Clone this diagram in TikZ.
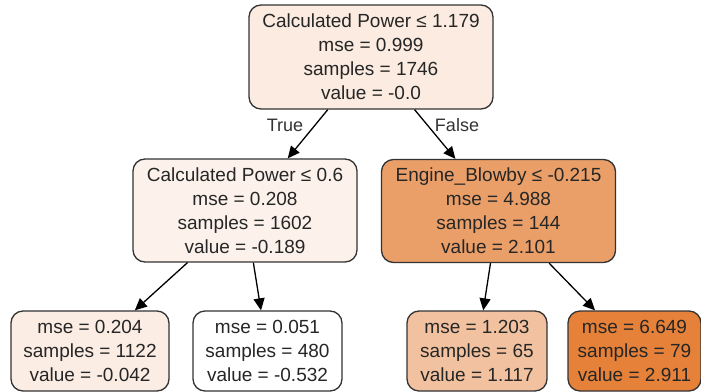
\documentclass[tikz,border=0pt]{standalone}
\usepackage{fontspec}
\setmainfont{Liberation Sans}
\usetikzlibrary{arrows.meta}
\definecolor{fill-0}{HTML}{FBEBE0}
\definecolor{fill-1}{HTML}{FCF2EB}
\definecolor{fill-2}{HTML}{EB9F68}
\definecolor{fill-3}{HTML}{FBEDE3}
\definecolor{fill-4}{HTML}{FFFFFF}
\definecolor{fill-5}{HTML}{F2C2A0}
\definecolor{fill-6}{HTML}{E58139}
\begin{document}
\begin{tikzpicture}[x=1pt,y=-1pt,
  leaf/.style={draw=black!80,line width=1.3pt,rounded corners=12pt,align=center,
    inner sep=0pt,text=black!85,font=\fontsize{19}{24}\selectfont},
  edge/.style={-{Triangle[length=12pt,width=11pt]},line width=1.3pt},
  lbl/.style={text=black!80,font=\fontsize{18}{22}\selectfont}]
  \useasboundingbox (0,0) rectangle (701,391);
  \node[leaf,fill=fill-0,minimum width=244pt,minimum height=104pt] (T-0) at (371,57)
    {Calculated Power ≤ 1.179\\mse = 0.999\\samples = 1746\\value = -0.0};
  \node[leaf,fill=fill-1,minimum width=224pt,minimum height=103pt] (T-1) at (245,210.5)
    {Calculated Power ≤ 0.6\\mse = 0.208\\samples = 1602\\value = -0.189};
  \node[leaf,fill=fill-2,minimum width=234pt,minimum height=103pt] (T-2) at (498.5,211)
    {Engine\_Blowby ≤ -0.215\\mse = 4.988\\samples = 144\\value = 2.101};
  \node[leaf,fill=fill-3,minimum width=158pt,minimum height=80pt] (T-3) at (90,351)
    {mse = 0.204\\samples = 1122\\value = -0.042};
  \node[leaf,fill=fill-4,minimum width=149pt,minimum height=80pt] (T-4) at (267.5,351)
    {mse = 0.051\\samples = 480\\value = -0.532};
  \node[leaf,fill=fill-5,minimum width=140pt,minimum height=80pt] (T-5) at (477,351)
    {mse = 1.203\\samples = 65\\value = 1.117};
  \node[leaf,fill=fill-6,minimum width=133pt,minimum height=80pt] (T-6) at (634.5,351)
    {mse = 6.649\\samples = 79\\value = 2.911};
  \draw[edge] (T-0) -- (T-1);
  \draw[edge] (T-0) -- (T-2);
  \draw[edge] (T-1) -- (T-3);
  \draw[edge] (T-1) -- (T-4);
  \draw[edge] (T-2) -- (T-5);
  \draw[edge] (T-2) -- (T-6);
  \node[lbl] (L-true) at (285,125) {True};
  \node[lbl] (L-false) at (457,125) {False};
\end{tikzpicture}
\end{document}
